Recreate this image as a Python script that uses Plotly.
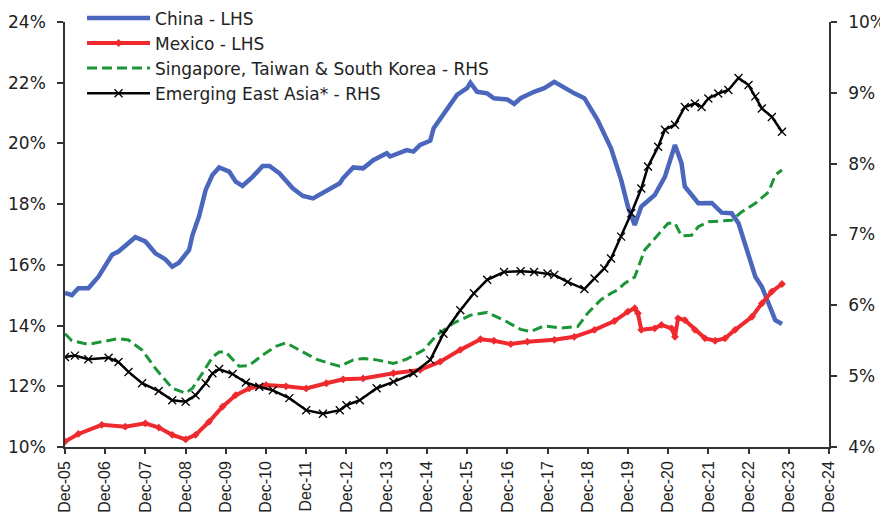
import plotly.graph_objects as go

# values (left axis: China, Mexico; right axis: SG/TW/KR, Emerging East Asia)
china_dates = ["2005-12", "2006-02", "2006-04", "2006-07", "2006-10", "2007-02", "2007-04", "2007-09",
               "2007-12", "2008-03", "2008-06", "2008-08", "2008-10", "2009-01", "2009-02", "2009-04",
               "2009-06", "2009-08", "2009-10", "2010-01", "2010-03", "2010-05", "2010-08", "2010-11",
               "2011-01", "2011-04", "2011-08", "2011-11", "2012-02", "2012-06", "2012-10", "2012-11",
               "2013-02", "2013-05", "2013-08", "2013-12", "2014-01", "2014-06", "2014-08", "2014-10",
               "2015-01", "2015-02", "2015-06", "2015-09", "2015-12", "2016-01", "2016-03", "2016-06",
               "2016-08", "2016-12", "2017-02", "2017-04", "2017-08", "2017-11", "2018-02", "2018-06",
               "2018-08", "2018-11", "2019-03", "2019-07", "2019-10", "2019-12", "2020-02", "2020-04",
               "2020-08", "2020-11", "2021-02", "2021-04", "2021-05", "2021-09", "2022-01", "2022-04",
               "2022-07", "2022-09", "2022-12", "2023-02", "2023-04", "2023-07", "2023-08", "2023-10"]
china_vals = [15.08, 15.0, 15.23, 15.23, 15.61, 16.33, 16.44, 16.91,
              16.77, 16.38, 16.18, 15.94, 16.07, 16.49, 16.98, 17.59,
              18.47, 18.96, 19.21, 19.07, 18.74, 18.60, 18.90, 19.26,
              19.26, 19.02, 18.52, 18.27, 18.19, 18.44, 18.69, 18.86,
              19.21, 19.18, 19.45, 19.68, 19.57, 19.78, 19.73, 19.95,
              20.09, 20.50, 21.10, 21.60, 21.82, 22.00, 21.70, 21.65,
              21.49, 21.45, 21.30, 21.49, 21.70, 21.82, 22.03, 21.76,
              21.65, 21.49, 20.77, 19.84, 18.80, 17.92, 17.31, 17.92,
              18.30, 18.90, 19.95, 19.35, 18.58, 18.03, 18.04, 17.72,
              17.70, 17.37, 16.38, 15.61, 15.28, 14.51, 14.18, 14.05]

mexico_dates = ["2005-12", "2006-04", "2006-11", "2007-06", "2007-12", "2008-04", "2008-08", "2008-12",
                "2009-03", "2009-07", "2009-11", "2010-03", "2010-07", "2010-12", "2011-06", "2011-12",
                "2012-06", "2012-11", "2013-05", "2014-02", "2014-10", "2015-04", "2015-10", "2016-04",
                "2016-08", "2017-01", "2017-06", "2018-02", "2018-08", "2019-02", "2019-08", "2019-12",
                "2020-02", "2020-03", "2020-04", "2020-08", "2020-10", "2021-01", "2021-02", "2021-03",
                "2021-05", "2021-08", "2021-11", "2022-02", "2022-05", "2022-08", "2023-01", "2023-04",
                "2023-07", "2023-10"]
mexico_vals = [10.18, 10.43, 10.73, 10.67, 10.78, 10.64, 10.40, 10.25,
               10.40, 10.83, 11.33, 11.71, 11.93, 12.04, 12.00, 11.93,
               12.10, 12.23, 12.26, 12.43, 12.54, 12.81, 13.20, 13.55,
               13.50, 13.39, 13.47, 13.53, 13.63, 13.86, 14.15, 14.46,
               14.57, 14.41, 13.86, 13.91, 14.02, 13.91, 13.63, 14.24,
               14.18, 13.86, 13.58, 13.50, 13.58, 13.86, 14.29, 14.73,
               15.12, 15.37]

stk_dates = ["2005-12", "2006-02", "2006-07", "2006-12", "2007-04", "2007-07", "2007-11", "2008-03",
             "2008-08", "2008-12", "2009-02", "2009-05", "2009-08", "2009-10", "2009-12", "2010-04",
             "2010-07", "2010-11", "2011-03", "2011-06", "2011-10", "2012-03", "2012-07", "2012-10",
             "2013-02", "2013-05", "2013-09", "2014-02", "2014-06", "2014-11", "2015-03", "2015-08",
             "2016-01", "2016-06", "2016-11", "2017-04", "2017-07", "2017-11", "2018-04", "2018-09",
             "2018-12", "2019-04", "2019-07", "2019-09", "2019-11", "2020-02", "2020-05", "2020-08",
             "2020-12", "2021-02", "2021-04", "2021-07", "2021-09", "2021-12", "2022-04", "2022-07",
             "2022-10", "2023-02", "2023-06", "2023-08", "2023-10"]
stk_vals = [5.60, 5.50, 5.45, 5.50, 5.53, 5.51, 5.37, 5.11,
            4.83, 4.76, 4.83, 5.04, 5.27, 5.34, 5.34, 5.14,
            5.15, 5.30, 5.42, 5.47, 5.37, 5.24, 5.18, 5.14,
            5.23, 5.25, 5.23, 5.18, 5.24, 5.37, 5.58, 5.75,
            5.86, 5.90, 5.79, 5.66, 5.63, 5.71, 5.68, 5.70,
            5.89, 6.08, 6.17, 6.22, 6.31, 6.40, 6.78, 6.95,
            7.16, 7.16, 6.98, 6.99, 7.11, 7.18, 7.19, 7.20,
            7.32, 7.44, 7.60, 7.84, 7.91]

eea_dates = ["2005-12", "2006-03", "2006-07", "2007-01", "2007-04", "2007-07", "2007-11", "2008-04",
             "2008-08", "2008-12", "2009-03", "2009-06", "2009-08", "2009-10", "2010-02", "2010-06",
             "2010-10", "2011-02", "2011-07", "2011-12", "2012-05", "2012-10", "2012-12", "2013-04",
             "2013-09", "2014-02", "2014-08", "2015-01", "2015-05", "2015-10", "2016-02", "2016-06",
             "2016-11", "2017-04", "2017-08", "2017-12", "2018-02", "2018-06", "2018-11", "2019-02",
             "2019-05", "2019-07", "2019-10", "2020-01", "2020-04", "2020-06", "2020-09", "2020-11",
             "2021-02", "2021-05", "2021-08", "2021-10", "2021-12", "2022-03", "2022-06", "2022-09",
             "2022-12", "2023-02", "2023-04", "2023-07", "2023-10"]
eea_vals = [5.27, 5.29, 5.24, 5.26, 5.20, 5.06, 4.90, 4.79,
            4.66, 4.64, 4.73, 4.90, 5.04, 5.10, 5.03, 4.91,
            4.85, 4.80, 4.69, 4.52, 4.47, 4.52, 4.59, 4.66,
            4.83, 4.92, 5.04, 5.23, 5.60, 5.93, 6.17, 6.36,
            6.47, 6.48, 6.47, 6.45, 6.43, 6.33, 6.23, 6.38,
            6.52, 6.66, 6.97, 7.30, 7.65, 7.96, 8.24, 8.48,
            8.55, 8.80, 8.85, 8.80, 8.92, 8.99, 9.04, 9.21,
            9.11, 8.95, 8.78, 8.66, 8.45]

tick_dates = ["%d-12-01" % y for y in range(2005, 2025)]
tick_labels = ["Dec-%02d" % (y % 100) for y in range(2005, 2025)]

wide_font = "DejaVu Sans, Verdana, sans-serif"
narrow_font = "Liberation Sans, Arial, sans-serif"
axis_col = "#333"

fig = go.Figure()
fig.add_trace(go.Scatter(x=china_dates, y=china_vals, name="China - LHS", mode="lines",
                         line=dict(color="#4a67bd", width=4.5)))
fig.add_trace(go.Scatter(x=mexico_dates, y=mexico_vals, name="Mexico - LHS", mode="lines+markers",
                         line=dict(color="#ee2a2e", width=4),
                         marker=dict(symbol="diamond", size=6, color="#ee2a2e")))
fig.add_trace(go.Scatter(x=stk_dates, y=stk_vals, name="Singapore, Taiwan & South Korea - RHS",
                         mode="lines", yaxis="y2",
                         line=dict(color="#1b9637", width=3, dash="10px,5px")))
fig.add_trace(go.Scatter(x=eea_dates, y=eea_vals, name="Emerging East Asia* - RHS",
                         mode="lines+markers", yaxis="y2",
                         line=dict(color="black", width=2.5),
                         marker=dict(symbol="x-thin", size=8, line=dict(color="black", width=1.3))))

# the page body adds an 8px offset, so the figure is sized/margined to land the plot
# area where the reference has it
fig.update_layout(
    width=880, height=507,
    margin=dict(l=57, r=59, t=14, b=68, autoexpand=False),
    plot_bgcolor="white", paper_bgcolor="white",
    font=dict(family=wide_font, size=17, color="#222"),
    showlegend=True,
    legend=dict(x=0.0223, y=1.051, xanchor="left", yanchor="top",
                bgcolor="rgba(0,0,0,0)", font=dict(family=wide_font, size=17),
                itemwidth=63, tracegroupgap=0),
    xaxis=dict(type="date", range=["2005-12-01", "2024-12-01"],
               tickvals=tick_dates, ticktext=tick_labels, tickangle=-90,
               tickfont=dict(family=narrow_font, size=16), ticklabelstandoff=1,
               showline=True, linecolor=axis_col, linewidth=1.5,
               ticks="outside", ticklen=5, tickcolor=axis_col, tickwidth=1.5,
               showgrid=False, zeroline=False),
    yaxis=dict(range=[10, 24], dtick=2, ticksuffix="%", ticklabelstandoff=8,
               showline=True, linecolor=axis_col, linewidth=1.5,
               ticks="outside", ticklen=6, tickcolor=axis_col, tickwidth=1.5,
               showgrid=False, zeroline=False),
    yaxis2=dict(range=[4, 10], dtick=1, ticksuffix="%", overlaying="y", side="right",
                ticklabelstandoff=8,
                showline=True, linecolor=axis_col, linewidth=1.5,
                ticks="outside", ticklen=6, tickcolor=axis_col, tickwidth=1.5,
                showgrid=False, zeroline=False),
)

fig.write_html("out.html")
